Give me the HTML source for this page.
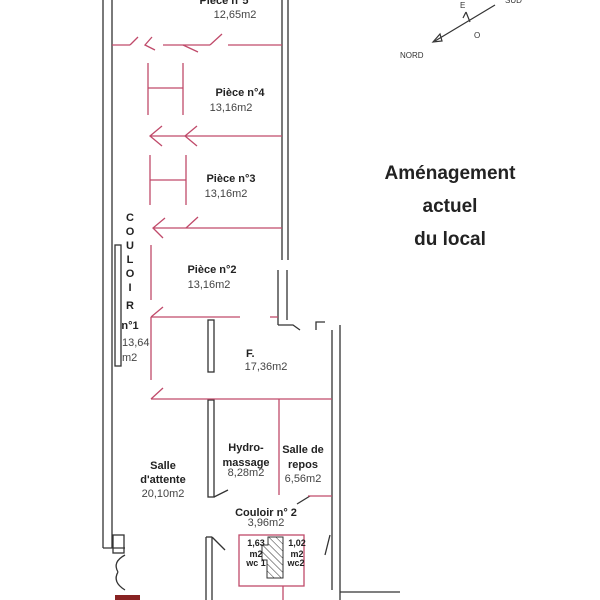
<!DOCTYPE html>
<html><head><meta charset="utf-8"><style>
body{margin:0;background:#fff;}
svg{display:block;font-family:"Liberation Sans",sans-serif;}
.b{font-weight:bold;font-size:11px;fill:#222;}
.n{font-size:11px;fill:#444;}
</style></head><body>
<svg width="600" height="600" viewBox="0 0 600 600">
<defs><pattern id="h" width="5" height="5" patternUnits="userSpaceOnUse" patternTransform="rotate(-45)"><line x1="0" y1="0" x2="0" y2="5" stroke="#333" stroke-width="1"/></pattern></defs>
<g stroke="#333" stroke-width="1.3" fill="none">
<line x1="103" y1="0" x2="103" y2="548"/>
<line x1="112" y1="0" x2="112" y2="548"/>
<line x1="103" y1="548" x2="125" y2="548"/>
<rect x="115" y="245" width="6" height="121"/>
<rect x="113" y="535" width="11" height="18"/>
<path d="M125 555 Q112 562 118 572 M125 590 Q112 582 118 572"/>
<line x1="282" y1="0" x2="282" y2="260"/><line x1="288" y1="0" x2="288" y2="260"/>
<line x1="278" y1="270" x2="278" y2="325"/><line x1="287" y1="270" x2="287" y2="320"/>
<path d="M278 325 L293 325 L300 330"/>
<path d="M316 330 L316 322 L325 322"/>
<line x1="332" y1="330" x2="332" y2="590"/><line x1="340" y1="325" x2="340" y2="600"/>
<rect x="208" y="320" width="6" height="52"/>
<rect x="208" y="400" width="6" height="97"/>
<line x1="206" y1="537" x2="206" y2="600"/><line x1="212" y1="537" x2="212" y2="600"/>
<line x1="206" y1="537" x2="212" y2="537"/>
<path d="M212 537 L225 550"/>
<path d="M214 497 L228 490"/>
<path d="M310 496 L297 504"/>
<path d="M330 535 L325 555"/>
<line x1="340" y1="592" x2="400" y2="592"/>
<rect x="115" y="595" width="25" height="5" fill="#822" stroke="none"/>
</g>
<g stroke="#c04a6a" stroke-width="1.3" fill="none">
<line x1="112" y1="45" x2="130" y2="45"/><line x1="163" y1="45" x2="210" y2="45"/><line x1="228" y1="45" x2="282" y2="45"/>
<path d="M130 45 L138 37 M152 37 L145 45 L155 50 M183 45 L198 52 M210 45 L222 34"/>
<line x1="148" y1="63" x2="148" y2="115"/><line x1="183" y1="63" x2="183" y2="115"/><line x1="148" y1="88" x2="183" y2="88"/>
<line x1="150" y1="136" x2="282" y2="136"/><path d="M162 126 L150 136 L162 146 M197 126 L185 136 L197 146"/>
<line x1="150" y1="155" x2="150" y2="205"/><line x1="186" y1="155" x2="186" y2="205"/><line x1="150" y1="180" x2="186" y2="180"/>
<line x1="153" y1="228" x2="282" y2="228"/><path d="M165 218 L153 228 L163 238 M186 228 L198 217"/>
<line x1="151" y1="245" x2="151" y2="300"/><line x1="151" y1="317" x2="151" y2="380"/>
<line x1="151" y1="317" x2="240" y2="317"/><line x1="270" y1="317" x2="278" y2="317"/><path d="M151 317 L163 307"/>
<line x1="151" y1="399" x2="332" y2="399"/><path d="M151 399 L163 388"/>
<line x1="279" y1="399" x2="279" y2="495"/>
<line x1="308" y1="496" x2="332" y2="496"/>
<rect x="239" y="535" width="65" height="51"/>
<line x1="283" y1="586" x2="283" y2="600"/>
</g>
<path d="M268 537 L283 537 L283 578 L267 578 L267 560 L262 560 L262 545 L268 545 Z" fill="url(#h)" stroke="#333"/>
<g stroke="#333" stroke-width="1.2" fill="none">
<line x1="495" y1="5" x2="435" y2="41"/><path d="M433 42 L440 34 L442 41 Z"/><path d="M470 22 L466 12 M466 12 L463 18"/>
</g>
<g font-size="8" fill="#333"><text x="400" y="58">NORD</text><text x="460" y="8">E</text><text x="474" y="38">O</text><text x="505" y="3">SUD</text></g>
<g text-anchor="middle">
<text class="b" x="224" y="4">Pièce n°5</text><text class="n" x="235" y="18">12,65m2</text>
<text class="b" x="240" y="96">Pièce n°4</text><text class="n" x="231" y="111">13,16m2</text>
<text class="b" x="231" y="182">Pièce n°3</text><text class="n" x="226" y="197">13,16m2</text>
<text class="b" x="212" y="273">Pièce n°2</text><text class="n" x="209" y="288">13,16m2</text>
<text class="n" x="266" y="370">17,36m2</text>
<text class="b" x="163" y="469">Salle</text><text class="b" x="163" y="483">d'attente</text><text class="n" x="163" y="497">20,10m2</text>
<text class="b" x="246" y="451">Hydro-</text><text class="b" x="246" y="466">massage</text><text class="n" x="246" y="476">8,28m2</text>
<text class="b" x="303" y="453">Salle de</text><text class="b" x="303" y="468">repos</text><text class="n" x="303" y="482">6,56m2</text>
<text class="b" x="266" y="516">Couloir n° 2</text><text class="n" x="266" y="526">3,96m2</text>
<text class="b" x="130" y="221">C</text><text class="b" x="130" y="235">O</text><text class="b" x="130" y="249">U</text><text class="b" x="130" y="263">L</text><text class="b" x="130" y="277">O</text><text class="b" x="130" y="291">I</text><text class="b" x="130" y="309">R</text>
<text class="b" x="130" y="329">n°1</text>
<g font-size="9" font-weight="bold" fill="#222"><text x="256" y="546">1,63</text><text x="256" y="557">m2</text><text x="256" y="566">wc 1</text><text x="297" y="546">1,02</text><text x="297" y="557">m2</text><text x="296" y="566">wc2</text></g>
<g font-size="19" font-weight="bold" fill="#222"><text x="450" y="179">Aménagement</text><text x="450" y="212">actuel</text><text x="450" y="245">du local</text></g>
</g>
<text class="n" x="122" y="346">13,64</text><text class="n" x="122" y="361">m2</text>
<text class="b" x="246" y="357" font-size="9">F.</text>
</svg>
</body></html>
